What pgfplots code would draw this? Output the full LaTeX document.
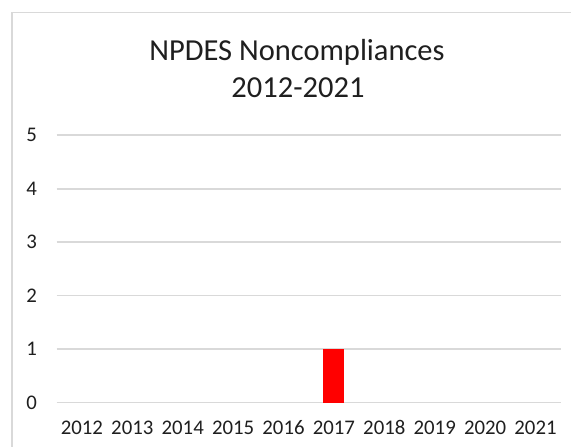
\documentclass[border=0pt]{standalone}
\usepackage{pgfplots}
\pgfplotsset{compat=1.18}
\usepackage{fontspec}
\setmainfont{Carlito}
\definecolor{gridc}{HTML}{D9D9D9}
\definecolor{txt}{HTML}{1F1F1F}
\begin{document}
\begin{tikzpicture}[x=1pt,y=1pt]
\useasboundingbox (0,0) rectangle (571,447);
\fill[white] (0,0) rectangle (571,447);
\draw[gridc, line width=1.6pt] (11.7,0) -- (11.7,434.3) -- (575,434.3);
\node[anchor=base, text=txt, font=\fontsize{30.5}{36}\selectfont, inner sep=0pt] at (297,386.3) {NPDES Noncompliances};
\node[anchor=base, text=txt, font=\fontsize{30.5}{36}\selectfont, inner sep=0pt] at (298,349) {2012-2021};
\begin{axis}[
  at={(56.7pt,44.3pt)}, anchor=south west,
  scale only axis, width=504pt, height=267.5pt,
  xmin=-0.5, xmax=9.5, ymin=0, ymax=5,
  xtick={0,...,9},
  xticklabels={2012,2013,2014,2015,2016,2017,2018,2019,2020,2021},
  ytick={0,...,5},
  ymajorgrids, grid style={gridc, line width=1.6pt},
  axis line style={draw=none},
  major tick length=0pt,
  clip=false,
  /pgf/number format/assume math mode=true,
  tick label style={text=txt, font=\fontsize{20.8}{24}\selectfont},
  yticklabel style={anchor=east, inner sep=0pt, xshift=-19.5pt},
  xticklabel style={anchor=base, inner sep=0pt, yshift=-32.3pt},
  ybar, bar width=21pt,
  restrict y to domain=0.5:100, unbounded coords=discard,
]
\addplot[fill=red, draw=none] coordinates {(0,0) (1,0) (2,0) (3,0) (4,0) (5,1) (6,0) (7,0) (8,0) (9,0)};
\end{axis}
\end{tikzpicture}
\end{document}
